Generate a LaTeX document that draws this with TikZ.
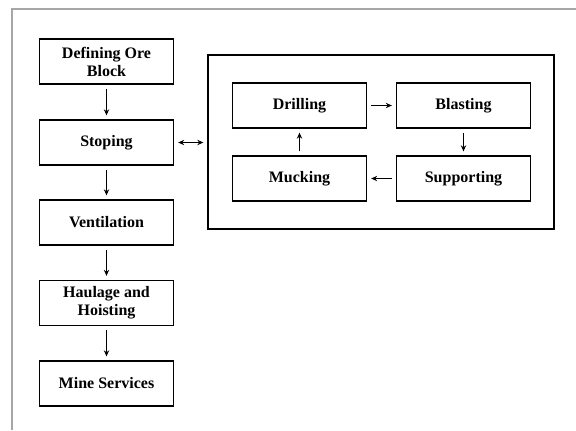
\documentclass[tikz,border=0pt]{standalone}
\usepackage{fontspec}
\setmainfont{Liberation Serif}
\usepackage{tikz}
\usetikzlibrary{positioning}
\usetikzlibrary{arrows.meta}
\tikzset{stepbox/.style={draw, line width=1pt, minimum width=100.5pt, minimum height=33.75pt, inner sep=1pt, align=center, font=\fontsize{12}{13.5}\selectfont\bfseries}}
\tikzset{flow/.style={line width=0.9pt, -{Stealth[length=4.5pt,width=4pt]}, shorten >=3pt, shorten <=3pt}}

\begin{document}
\begin{tikzpicture}[x=0.75pt,y=-0.75pt]
\def\lx{106.5}
\def\dx{299.5}
\def\bx{463.5}

\useasboundingbox (0,0) rectangle (576,430);
\draw [gray!70, line width=1.2pt] (12,430) -- (12,9) -- (576,9); %page edge

\node[stepbox] (ore) at (\lx,61.5) {Defining Ore\\Block};
\node[stepbox] (stoping) at (\lx,142.5) {Stoping};
\node[stepbox] (vent) at (\lx,222.5) {Ventilation};
\node[stepbox] (haul) at (\lx,303) {Haulage and\\Hoisting};
\node[stepbox] (mine) at (\lx,383.5) {Mine Services};

\node[draw, line width=1pt, minimum width=259.5pt, minimum height=130.5pt] (cycle) at (381,142) {};
\node[stepbox] (drill) at (\dx,105.5) {Drilling};
\node[stepbox] (blast) at (\bx,105.5) {Blasting};
\node[stepbox] (muck) at (\dx,178.5) {Mucking};
\node[stepbox] (support) at (\bx,178.5) {Supporting};

\draw [flow] (ore) -- (stoping);
\draw [flow] (stoping) -- (vent);
\draw [flow] (vent) -- (haul);
\draw [flow] (haul) -- (mine);
\draw [flow, {Stealth[length=4.5pt,width=4pt]}-{Stealth[length=4.5pt,width=4pt]}] (stoping.east) -- (stoping.east -| cycle.west);

\draw [flow] (drill) -- (blast);
\draw [flow] (blast) -- (support);
\draw [flow] (support) -- (muck);
\draw [flow] (muck) -- (drill);
\end{tikzpicture}
\end{document}
